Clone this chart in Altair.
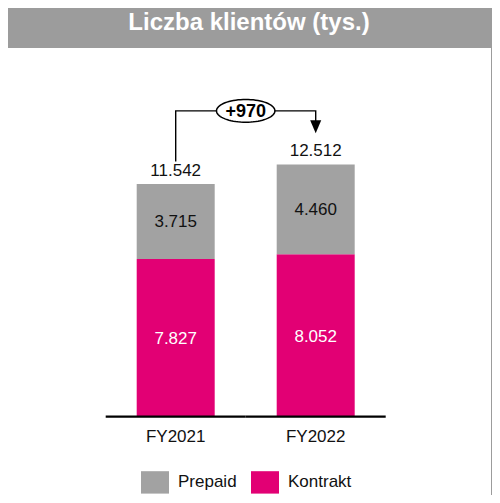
import math
import altair as alt
import pandas as pd

# ---------------- data ----------------
categories = ["FY2021", "FY2022"]
series = ["Prepaid", "Kontrakt"]
prepaid = [3715, 4460]
kontrakt = [7827, 8052]
totals = [11542, 12512]
title_text = "Liczba klientów (tys.)"


def fmt(v):
    return f"{v:,}".replace(",", ".")


# ---------------- layout / style ----------------
W, H = 483, 447
PAD = {"left": 0, "top": 40, "right": 1, "bottom": 0}
BASE_Y = 368.7            # baseline, px from plot top
PX_PER = 0.02016          # px per unit
Y_HI = BASE_Y / PX_PER
Y_LO = -(H - BASE_Y) / PX_PER
STEP, BANDW = 140, 78
P_IN = (STEP - BANDW) / STEP
P_OUT = (W / STEP - 2 + P_IN) / 2
ALIGN = 128.7 / (W - STEP * (2 - P_IN))

BG = "#9c9c9c"
GREY = "#a2a2a2"
MAGENTA = "#e20074"
TXT = "#111111"
FS = 17
LABEL_FONT = "Liberation Sans, Arial, sans-serif"
SANS = "Liberation Sans, Arial, sans-serif"
RECT_PATH = "M-1,-0.8H1V0.8H-1Z"
ELLIPSE_PATH = "M" + "L".join(
    f"{math.cos(a * math.pi / 36):.4f},{0.39 * math.sin(a * math.pi / 36):.4f}"
    for a in range(72)) + "Z"
TRI_PATH = "M-0.85,-1L0.85,-1L0,1Z"

# ---------------- tables ----------------
rows = []
for c, k, p in zip(categories, kontrakt, prepaid):
    rows.append({"cat": c, "series": "Kontrakt", "value": k, "ord": 0,
                 "mid": k / 2, "label": fmt(k)})
    rows.append({"cat": c, "series": "Prepaid", "value": p, "ord": 1,
                 "mid": k + p / 2, "label": fmt(p)})
df = pd.DataFrame(rows)
df_k = df[df.series == "Kontrakt"]
df_p = df[df.series == "Prepaid"]
df_tot = pd.DataFrame({"cat": categories, "total": totals,
                       "label": [fmt(t) for t in totals]})
df_base = pd.DataFrame({"cat": categories, "zero": [0, 0]})

level = max(totals) + 53.6 / PX_PER
df_line = pd.DataFrame({
    "cat": [categories[0], categories[0], categories[1], categories[1]],
    "y": [totals[0] + 22.6 / PX_PER, level, level, totals[1] + 42 / PX_PER],
    "ord": [0, 1, 2, 3],
})
delta = totals[1] - totals[0]
df_delta = pd.DataFrame({"cat": [categories[0]], "y": [level],
                         "label": [f"+{delta}"]})
df_head = pd.DataFrame({"cat": [categories[1]],
                        "y": [totals[1] + 37.6 / PX_PER]})
df_title = pd.DataFrame({"t": [title_text]})

# ---------------- encodings ----------------
x_enc = alt.X(
    "cat:N",
    title=None,
    scale=alt.Scale(type="band", domain=categories, paddingInner=P_IN,
                    paddingOuter=P_OUT, align=ALIGN, round=False),
    axis=alt.Axis(orient="bottom", offset=-(H - BASE_Y), domain=False,
                  ticks=False, grid=False, labelPadding=12, labelAngle=0,
                  labelFont=LABEL_FONT, labelFontSize=FS, labelColor=TXT),
)
y_scale = alt.Scale(domain=[Y_LO, Y_HI], nice=False, zero=False)


def Y(field, **kw):
    return alt.Y(field, scale=y_scale, axis=None, title=None, **kw)


bars = alt.Chart(df).mark_bar().encode(
    x=x_enc,
    y=Y("value:Q", stack="zero"),
    order=alt.Order("ord:Q"),
    color=alt.Color(
        "series:N",
        scale=alt.Scale(domain=series, range=[GREY, MAGENTA]),
        legend=alt.Legend(
            title=None, orient="none", legendX=133, legendY=420,
            direction="horizontal", symbolType=RECT_PATH, symbolSize=784,
            symbolStrokeWidth=0, labelFont=LABEL_FONT, labelFontSize=FS,
            labelColor=TXT, labelOffset=9, columnPadding=14, padding=0,
        ),
    ),
)

lab_k = alt.Chart(df_k).mark_text(font=LABEL_FONT, fontSize=FS, color="white",
                                  baseline="middle", dy=1).encode(
    x=x_enc, y=Y("mid:Q"), text="label:N")
lab_p = alt.Chart(df_p).mark_text(font=LABEL_FONT, fontSize=FS, color=TXT,
                                  baseline="middle", dy=1).encode(
    x=x_enc, y=Y("mid:Q"), text="label:N")
lab_tot = alt.Chart(df_tot).mark_text(font=LABEL_FONT, fontSize=FS, color=TXT,
                                      baseline="alphabetic", dy=-8.5).encode(
    x=x_enc, y=Y("total:Q"), text="label:N")

baseline = alt.Chart(df_base).mark_tick(
    orient="horizontal", size=STEP, thickness=2.2, color="black", opacity=1
).encode(x=x_enc, y=Y("zero:Q"))

connector = alt.Chart(df_line).mark_line(color="black", strokeWidth=1.4).encode(
    x=x_enc, y=Y("y:Q"), order=alt.Order("ord:Q"))

ellipse = alt.Chart(df_delta).mark_point(
    shape=ELLIPSE_PATH, size=58.4 ** 2, filled=True, fill="white",
    stroke="black", strokeWidth=1.5, opacity=1, xOffset=STEP / 2
).encode(x=x_enc, y=Y("y:Q"))

delta_txt = alt.Chart(df_delta).mark_text(
    font=SANS, fontSize=18, fontWeight="bold", color="black",
    baseline="middle", dy=1, xOffset=STEP / 2
).encode(x=x_enc, y=Y("y:Q"), text="label:N")

head = alt.Chart(df_head).mark_point(
    shape=TRI_PATH, size=13 ** 2, filled=True, fill="black",
    strokeWidth=0, opacity=1
).encode(x=x_enc, y=Y("y:Q"))

title = alt.Chart(df_title).mark_text(
    font=SANS, fontSize=24, fontWeight="bold", color="white",
    baseline="alphabetic", align="center"
).encode(x=alt.value(241), y=alt.value(-18), text="t:N")

chart = alt.layer(
    bars, lab_k, lab_p, lab_tot, baseline, connector, ellipse, delta_txt,
    head, title
).properties(
    width=W, height=H,
    padding=PAD,
    autosize=alt.AutoSizeParams(type="none"),
    background=BG,
).configure_view(fill="white", strokeWidth=0)

chart.save("out.html", embed_options={"renderer": "svg", "actions": False})
